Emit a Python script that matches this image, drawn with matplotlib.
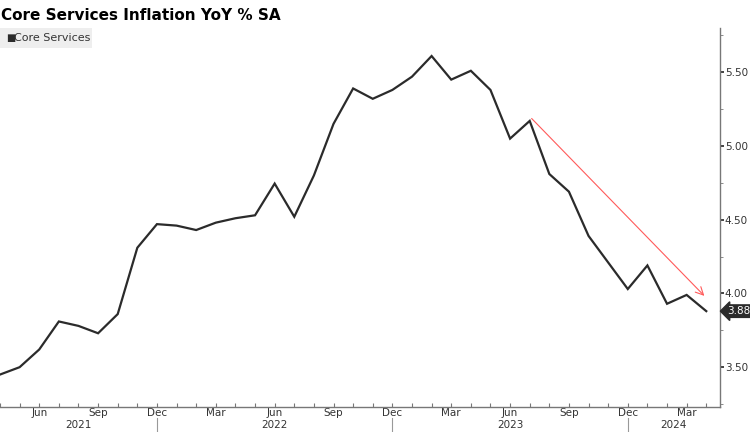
import matplotlib.pyplot as plt
from matplotlib.patches import Rectangle

# monthly data, Apr 2021 .. Apr 2024
months = ['Apr', 'May', 'Jun', 'Jul', 'Aug', 'Sep', 'Oct', 'Nov', 'Dec', 'Jan', 'Feb', 'Mar']
start_year = 2021
values = [3.45, 3.50, 3.62, 3.81, 3.78, 3.73, 3.86, 4.31, 4.47,
          4.46, 4.43, 4.48, 4.51, 4.53, 4.745, 4.52, 4.80, 5.15, 5.39, 5.32, 5.38,
          5.47, 5.61, 5.45, 5.51, 5.38, 5.05, 5.17, 4.81, 4.69, 4.39, 4.21, 4.03,
          4.19, 3.93, 3.99, 3.88]
arrow_from = (27, 5.20)
arrow_to = (36, 3.97)
yticks = [3.50, 4.00, 4.50, 5.00, 5.50]

fig = plt.figure(figsize=(7.5, 4.32), dpi=100)
ax = fig.add_axes([0, 1 - 407 / 432, 720 / 750, (407 - 28) / 432])

x = list(range(len(values)))
ax.plot(x, values, color='#2b2b2b', lw=1.6, solid_joinstyle='miter')
ax.annotate('', xy=arrow_to, xytext=arrow_from,
            arrowprops=dict(arrowstyle='->', color='#ff5a5a', lw=0.8, mutation_scale=14))

ax.set_xlim(0, 36.7)
ax.set_ylim(3.23, 5.80)

for s in ['top', 'left']:
    ax.spines[s].set_visible(False)
for s in ['bottom', 'right']:
    ax.spines[s].set_color('#777777')
    ax.spines[s].set_linewidth(1)

ax.yaxis.tick_right()
ax.set_yticks(yticks)
ax.set_yticklabels([f'{v:.2f}' for v in yticks])
ax.set_yticks([3.25, 3.75, 4.25, 4.75, 5.25, 5.75], minor=True)
ax.tick_params(axis='y', which='major', direction='out', length=3, width=1.2,
               color='#222222', labelsize=7.5, labelcolor='#333333', pad=0.5)
ax.tick_params(axis='y', which='minor', direction='out', length=2, color='#777777')

# month ticks, labels every quarter
ax.set_xticks(x)
labels = []
for i in x:
    m = months[i % 12]
    labels.append(m if m in ('Mar', 'Jun', 'Sep', 'Dec') else '')
ax.set_xticklabels(labels)
ax.tick_params(axis='x', direction='in', length=3, color='#777777',
               labelsize=7.5, labelcolor='#333333', pad=1)

# year labels and separators
bounds = [0, 8, 20, 32, 36.7]
xt = ax.get_xaxis_transform()
for k in range(4):
    mid = (bounds[k] + bounds[k + 1]) / 2
    ax.text(mid, -0.048, str(start_year + k), transform=xt,
            ha='center', va='center', fontsize=7.5, color='#333333')
for b in bounds[1:4]:
    ax.plot([b, b], [-0.03, -0.07], transform=xt,
            color='#999999', lw=0.8, clip_on=False)

# last value tag
ax.annotate(f'{values[-1]:.2f}', xy=(1.0, values[-1]), xycoords=('axes fraction', 'data'),
            xytext=(5, 0), textcoords='offset points', ha='left', va='center',
            fontsize=7.5, color='white',
            bbox=dict(boxstyle='larrow,pad=0.12', fc='#2b2b2b', ec='#2b2b2b'))

# legend
fig.patches.append(Rectangle((0, 1 - 48 / 432), 92 / 750, 20 / 432,
                             transform=fig.transFigure, fc='#eeeeee', ec='none'))
fig.text(6 / 750, 1 - 38 / 432, '\u25a0', fontsize=7, color='#2b2b2b', va='center')
fig.text(14 / 750, 1 - 38 / 432, 'Core Services', fontsize=8, color='#333333', va='center')

fig.text(1 / 750, 1 - 15 / 432, 'Core Services Inflation YoY % SA', fontsize=11,
         fontweight='bold', va='center', color='black')

fig.savefig('out.png', dpi=100)
